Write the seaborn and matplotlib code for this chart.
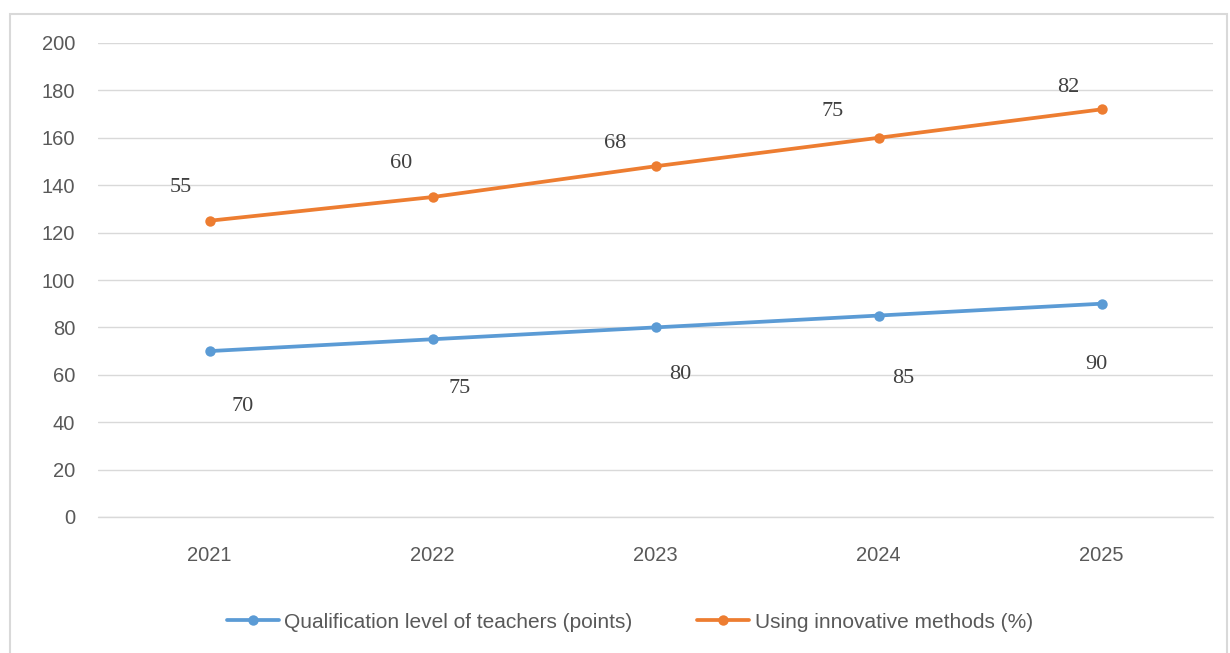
import matplotlib
matplotlib.use("Agg")
import matplotlib.pyplot as plt
import seaborn as sns
import pandas as pd
import numpy as np
from matplotlib.patches import Rectangle

years = ["2021", "2022", "2023", "2024", "2025"]
qualification = [70, 75, 80, 85, 90]
innovative = [55, 60, 68, 75, 82]
series_names = ["Qualification level of teachers (points)", "Using innovative methods (%)"]

# Stacked line chart: second series plotted on top of the first
stacked_innov = [q + i for q, i in zip(qualification, innovative)]

df = pd.DataFrame({
    "year": years * 2,
    "value": qualification + stacked_innov,
    "series": [series_names[0]] * len(years) + [series_names[1]] * len(years),
})

sns.set_theme(style="white")
plt.rcParams['font.family'] = ['Liberation Sans', 'DejaVu Sans']

blue = "#5B9BD5"
orange = "#ED7D31"

fig = plt.figure(figsize=(12.3, 6.53), dpi=100)
ax = fig.add_axes([98/1230, (653-517)/653, (1213-98)/1230, (517-43)/653])

ax.axhline(0, color="#D9D9D9", linewidth=1, clip_on=False, zorder=0)
sns.lineplot(data=df, x="year", y="value", hue="series", palette=[blue, orange],
             marker="o", markersize=7.5, markeredgewidth=0, linewidth=2.7, ax=ax, sort=False)

ax.set_xlim(-0.5, 4.5)
ax.set_ylim(0, 200)
ax.set_yticks(np.arange(0, 201, 20))
ax.grid(axis="y", color="#D9D9D9", linewidth=1)
ax.grid(axis="x", visible=False)
for s in ax.spines.values():
    s.set_visible(False)
ax.tick_params(axis="both", length=0, labelsize=14.5, labelcolor="#595959")
ax.tick_params(axis="y", pad=16.5)
ax.tick_params(axis="x", pad=21)
ax.set_xlabel("")
ax.set_ylabel("")

# Data labels (raw values)
blue_off = [(33, -55), (27, -49), (25, -47), (25, -63), (-5, -61)]
orange_off = [(-29, 33), (-31, 34), (-40, 23), (-46, 26), (-33, 22)]
for i in range(len(years)):
    ax.annotate(str(qualification[i]), (i, qualification[i]), xytext=blue_off[i],
                textcoords="offset pixels", ha="center", va="center",
                fontsize=16, color="#404040", family=["Liberation Serif", "DejaVu Serif"])
    ax.annotate(str(innovative[i]), (i, stacked_innov[i]), xytext=orange_off[i],
                textcoords="offset pixels", ha="center", va="center",
                fontsize=16, color="#404040", family=["Liberation Serif", "DejaVu Serif"])

leg = ax.legend(loc="center", bbox_to_anchor=(0.477, (653-622-136)/(517-43)), ncol=2,
                frameon=False, fontsize=15, handlelength=2.5, columnspacing=3.1,
                handletextpad=0.25)
for t in leg.get_texts():
    t.set_color("#595959")

fig.patches.append(Rectangle((10/1230, -0.05), 1217/1230, (653-14)/653 + 0.05,
                             transform=fig.transFigure, fill=False,
                             edgecolor="#D9D9D9", linewidth=1.5))

fig.savefig("out.png", dpi=100)
